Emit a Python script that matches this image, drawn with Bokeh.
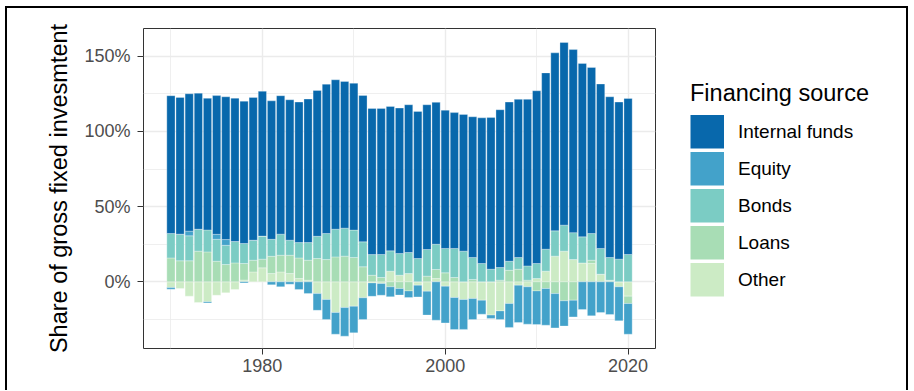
import numpy as np
from bokeh.plotting import figure
from bokeh.layouts import row
from bokeh.models import (ColumnDataSource, Legend, LegendItem, FixedTicker,
                          PrintfTickFormatter, Range1d, Spacer)
from bokeh.embed import file_html
from bokeh.resources import INLINE

years = list(range(1970, 2021))

internal_funds = [91.6, 90.9, 91.3, 90.4, 87.5, 92.2, 94.9, 95.3, 94.6, 94.9,
                  96.3, 92.0, 92.0, 93.3, 93.4, 95.4, 96.9, 99.3, 99.3, 97.5,
                  97.6, 97.3, 97.1, 97.1, 96.0, 96.7, 98.2, 97.8, 96.2, 94.3,
                  91.9, 90.3, 90.9, 93.5, 96.8, 100.8, 104.9, 105.8, 105.1, 110.7,
                  114.8, 117.2, 118.3, 121.4, 121.7, 115.3, 110.4, 109.3, 106.8, 104.4, 103.7]

equity = [-1.1, 0, 3.1, 0, -0.7, 3.3, 3.8, 0, -0.7, 0,
          0, -2.0, -3.3, -1.6, -5.1, -7.8, -11.1, -13.3, -14.4, -19.0,
          -17.7, -14.4, -8.9, -7.8, -6.6, -4.4, -4.4, -7.8, -15.9, -25.5,
          -24.4, -21.3, -19.9, -14.0, -9.3, -2.2, -5.8, -15.9, -24.8, -24.8,
          -22.4, -24.4, -22.8, -16.8, -11.1, -18.4, -22.6, -20.4, -21.7, -22.6, -20.4]

bonds = [16.2, 17.7, 16.6, 14.6, 14.6, 14.6, 12.8, 14.2, 13.3, 13.3,
         15.3, 11.3, 14.0, 10.0, 10.2, 11.7, 14.8, 17.3, 18.4, 18.6,
         18.2, 16.6, 13.7, 15.3, 13.5, 14.4, 14.0, 15.5, 17.7, 16.8,
         16.2, 19.3, 20.4, 14.6, 12.2, 8.4, 8.4, 6.0, 7.8, 9.5,
         10.0, 14.6, 16.8, 17.3, 17.9, 17.3, 17.7, 17.1, 15.1, 15.1, 18.2]

loans = [15.9, 14.0, 14.0, 20.4, 19.9, 13.7, 11.5, 12.6, 11.0, 7.8,
         5.8, 11.5, 11.1, 12.2, 13.7, 13.3, 15.5, 14.8, 16.6, 17.1,
         16.2, 10.0, 4.4, 2.9, -3.3, -4.4, -6.0, 0, 3.8, 6.0,
         6.0, 2.9, 0, 1.6, 0, 0, 1.1, 7.7, 8.4, 1.1,
         -6.0, -4.4, -7.8, -12.6, -12.2, 0, 2.2, 0, 0, 0, -4.9]

other = [-3.8, -4.4, -9.5, -13.7, -13.3, -8.9, -7.3, -5.1, 1.2, 6.6,
         9.3, 5.5, 6.6, 5.5, 2.2, 1.1, -7.8, -11.7, -20.4, -17.1,
         -16.2, -10.6, -0.7, -1.1, 7.1, 4.4, 5.5, -2.2, -6.2, 2.2,
         -2.9, -10.4, -11.7, -11.1, -12.2, -22.1, -19.3, -14.4, -2.2, -3.3,
         2.2, 7.1, 17.1, 20.4, 14.8, 12.6, 12.2, 5.1, 1.1, -3.3, -9.5]

series_names = ["Internal funds", "Equity", "Bonds", "Loans", "Other"]
series_values = [internal_funds, equity, bonds, loans, other]
colors = ["#0868AC", "#43A2CA", "#7BCCC4", "#A8DDB5", "#CCEBC5"]

FONT = "Liberation Sans"

p = figure(frame_width=512, frame_height=320, output_backend="svg", toolbar_location=None,
           x_range=Range1d(1967.0, 2023.0), y_range=Range1d(-44.3, 168.4),
           min_border_left=143, min_border_right=5, min_border_top=28,
           min_border_bottom=43)
# a range far from the visible one: the legend-key renderers below are mapped
# there so that they only show in the legend
p.extra_y_ranges = {"keys": Range1d(-100000, -99000)}

# stacking: positive values upward and negative values downward,
# "Other" closest to zero, "Internal funds" farthest
pos_base = np.zeros(len(years))
neg_base = np.zeros(len(years))
renderers = {}
for name, vals, col in reversed(list(zip(series_names, series_values, colors))):
    v = np.array(vals, dtype=float)
    pos = np.where(v > 0, v, 0.0)
    neg = np.where(v < 0, v, 0.0)
    bottom = np.where(v >= 0, pos_base, neg_base + neg)
    top = np.where(v >= 0, pos_base + pos, neg_base)
    pos_base = pos_base + pos
    neg_base = neg_base + neg
    src = ColumnDataSource(dict(x=years, bottom=bottom, top=top))
    p.vbar(x="x", width=0.9, bottom="bottom", top="top", source=src,
           fill_color=col, line_color="white", line_width=0.5, line_alpha=0.6)
    key = p.line(x="x", y="top", source=src, y_range_name="keys",
                 line_color=col, line_width=34, line_cap="butt")
    renderers[name] = key

p.xaxis.ticker = FixedTicker(ticks=[1980, 2000, 2020], minor_ticks=[1970, 1990, 2010])
p.yaxis.ticker = FixedTicker(ticks=[0, 50, 100, 150], minor_ticks=[-25, 25, 75, 125])
p.yaxis.formatter = PrintfTickFormatter(format="%d%%")

for ax in (p.xaxis[0], p.yaxis[0]):
    ax.axis_line_color = None
    ax.major_tick_line_color = "#333333"
    ax.major_tick_out = 6
    ax.major_tick_in = 0
    ax.minor_tick_line_color = None
    ax.major_label_text_font = FONT
    ax.major_label_text_font_size = "18px"
    ax.major_label_text_color = "#4D4D4D"
p.xaxis.major_label_standoff = 4
p.yaxis.major_label_standoff = 7

p.yaxis.axis_label = "Share of gross fixed invesmtent"
p.yaxis.axis_label_text_font = FONT
p.yaxis.axis_label_text_font_size = "23.5px"
p.yaxis.axis_label_text_font_style = "normal"
p.yaxis.axis_label_text_color = "black"
p.yaxis.axis_label_standoff = 9

for g in (p.xgrid[0], p.ygrid[0]):
    g.grid_line_color = "#EBEBEB"
    g.grid_line_width = 1.4
    g.minor_grid_line_color = "#EBEBEB"
    g.minor_grid_line_width = 0.8

p.outline_line_color = "#333333"
p.outline_line_width = 1
p.background_fill_color = "white"
p.border_fill_color = None

items = [LegendItem(label=n, renderers=[renderers[n]]) for n in series_names]
legend = Legend(items=items, title="Financing source", location="center_left")
legend.glyph_width = 34
legend.glyph_height = 34
legend.spacing = 3
legend.label_standoff = 14
legend.label_text_font = FONT
legend.label_text_font_size = "19px"
legend.label_text_color = "black"
legend.title_text_font = FONT
legend.title_text_font_size = "23.5px"
legend.title_text_font_style = "normal"
legend.title_text_color = "black"
legend.title_standoff = 8
legend.border_line_color = None
legend.background_fill_alpha = 0
legend.margin = 35
legend.padding = 0
p.add_layout(legend, "right")

frame_css = {
    "background-color": "white",
    "background-image": "linear-gradient(#000,#000), linear-gradient(#000,#000), linear-gradient(#000,#000)",
    "background-size": "2px 384px, 903px 2px, 2px 384px",
    "background-position": "5px 6px, 5px 6px, 906px 6px",
    "background-repeat": "no-repeat",
}
layout = row(p, Spacer(width=8, height=391), styles=frame_css)

open("out.html", "w").write(file_html(layout, INLINE))
